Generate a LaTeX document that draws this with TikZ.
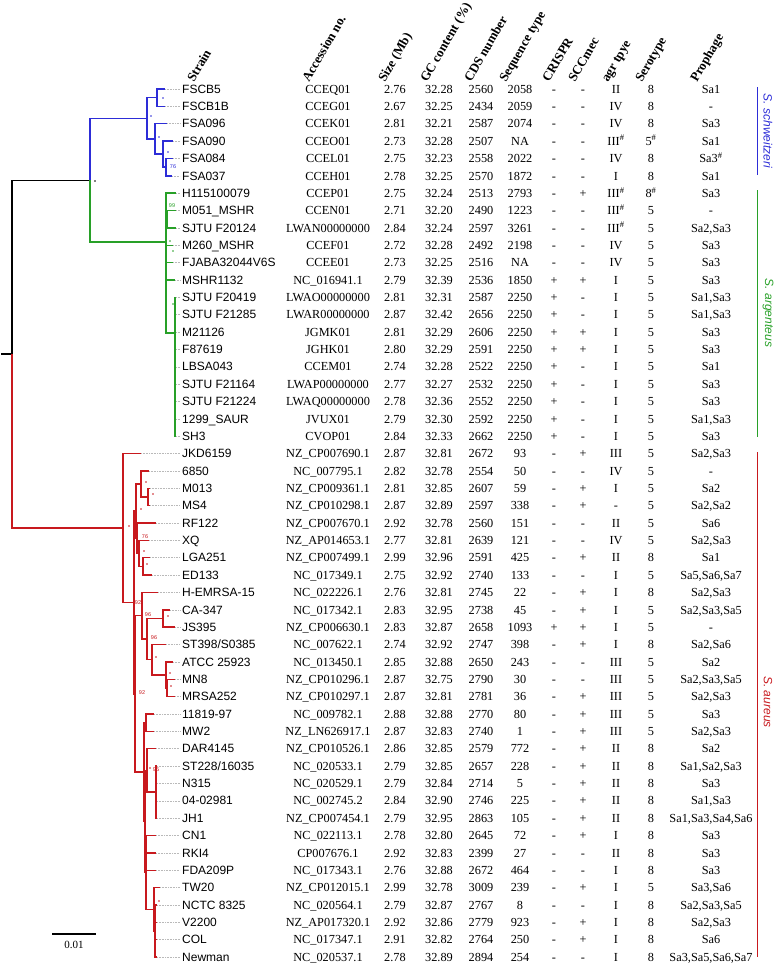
\documentclass[tikz,border=0pt]{standalone}
\usepackage{fontspec}
\setmainfont{Liberation Serif}
\newfontfamily\arialf{Liberation Sans}
\definecolor{tblue}{RGB}{45,45,215}
\definecolor{tgreen}{RGB}{40,160,40}
\definecolor{tred}{RGB}{200,25,30}
\newcommand\hs{\textsuperscript{\#}}
\newcommand\Row[9]{\def\RwI{#1}\def\RwS{#2}\def\RwA{#3}\def\RwZ{#4}\def\RwG{#5}\def\RwC{#6}\def\RwT{#7}\def\RwK{#8}\def\RwM{#9}\RowRest}
\newcommand\RowRest[3]{%
 \pgfmathsetmacro\RwY{89+17.36*\RwI+4.2}%
 \node[strain] (s\RwI) at (182,\RwY) {\RwS};
 \node[cell] (a\RwI) at (328,\RwY) {\RwA};
 \node[cell] (z\RwI) at (395,\RwY) {\RwZ};
 \node[cell] (g\RwI) at (439,\RwY) {\RwG};
 \node[cell] (c\RwI) at (481,\RwY) {\RwC};
 \node[cell] (q\RwI) at (520,\RwY) {\RwT};
 \node[cell] (k\RwI) at (554,\RwY) {\RwK};
 \node[cell] (m\RwI) at (583,\RwY) {\RwM};
 \node[cell] (r\RwI) at (616,\RwY) {#1};
 \node[cell] (e\RwI) at (651,\RwY) {#2};
 \node[cell] (p\RwI) at (711,\RwY) {#3};
}
\tikzset{
 strain/.style={anchor=base west,inner sep=0pt,font=\arialf\fontsize{12}{14}\selectfont},
 cell/.style={anchor=base,inner sep=0pt,font=\fontsize{12.3}{14}\selectfont},
 hdr/.style={anchor=base west,inner sep=0pt,rotate=60,font=\bfseries\fontsize{13}{15}\selectfont},
 br/.style={line width=1.4pt},
 leader/.style={draw=gray!55,line width=0.5pt,dash pattern=on 0.7pt off 0.9pt},
 boot/.style={inner sep=0pt,font=\arialf\fontsize{5.5}{6}\selectfont},
 sp/.style={rotate=-90,inner sep=0pt,font=\arialf\itshape\fontsize{12}{14}\selectfont},
 bar/.style={line width=1pt},
}
\begin{document}
\begin{tikzpicture}[x=1pt,y=-1pt]
\useasboundingbox (0,0) rectangle (778,966);
% headers
\node[hdr] (hStrain) at (194,83) {Strain};
\node[hdr] (hAcc) at (309,83) {Accession no.};
\node[hdr] (hSize) at (385,83) {Size (Mb)};
\node[hdr] (hGC) at (427,83) {GC content (\%)};
\node[hdr] (hCDS) at (471,83) {CDS number};
\node[hdr] (hSeq) at (506,83) {Sequence type};
\node[hdr] (hCr) at (549,83) {CRISPR};
\node[hdr] (hSc) at (575,83) {SCCmec};
\node[hdr] (hAgr) at (608,83) {agr tpye};
\node[hdr] (hSero) at (642,83) {Serotype};
\node[hdr] (hPro) at (697,83) {Prophage};
% rows
\Row{0}{FSCB5}{CCEQ01}{2.76}{32.28}{2560}{2058}{-}{-}{II}{8}{Sa1}
\Row{1}{FSCB1B}{CCEG01}{2.67}{32.25}{2434}{2059}{-}{-}{IV}{8}{-}
\Row{2}{FSA096}{CCEK01}{2.81}{32.21}{2587}{2074}{-}{-}{IV}{8}{Sa3}
\Row{3}{FSA090}{CCEO01}{2.73}{32.28}{2507}{NA}{-}{-}{III\hs}{5\hs}{Sa1}
\Row{4}{FSA084}{CCEL01}{2.75}{32.23}{2558}{2022}{-}{-}{IV}{8}{Sa3\hs}
\Row{5}{FSA037}{CCEH01}{2.78}{32.25}{2570}{1872}{-}{-}{I}{8}{Sa1}
\Row{6}{H115100079}{CCEP01}{2.75}{32.24}{2513}{2793}{-}{+}{III\hs}{8\hs}{Sa3}
\Row{7}{M051\_MSHR}{CCEN01}{2.71}{32.20}{2490}{1223}{-}{-}{III\hs}{5}{-}
\Row{8}{SJTU F20124}{LWAN00000000}{2.84}{32.24}{2597}{3261}{-}{-}{III\hs}{5}{Sa2,Sa3}
\Row{9}{M260\_MSHR}{CCEF01}{2.72}{32.28}{2492}{2198}{-}{-}{IV}{5}{Sa3}
\Row{10}{FJABA32044V6S}{CCEE01}{2.73}{32.25}{2516}{NA}{-}{-}{IV}{5}{Sa3}
\Row{11}{MSHR1132}{NC\_016941.1}{2.79}{32.39}{2536}{1850}{+}{+}{I}{5}{Sa3}
\Row{12}{SJTU F20419}{LWAO00000000}{2.81}{32.31}{2587}{2250}{+}{-}{I}{5}{Sa1,Sa3}
\Row{13}{SJTU F21285}{LWAR00000000}{2.87}{32.42}{2656}{2250}{+}{-}{I}{5}{Sa1,Sa3}
\Row{14}{M21126}{JGMK01}{2.81}{32.29}{2606}{2250}{+}{+}{I}{5}{Sa3}
\Row{15}{F87619}{JGHK01}{2.80}{32.29}{2591}{2250}{+}{+}{I}{5}{Sa3}
\Row{16}{LBSA043}{CCEM01}{2.74}{32.28}{2522}{2250}{+}{-}{I}{5}{Sa1}
\Row{17}{SJTU F21164}{LWAP00000000}{2.77}{32.27}{2532}{2250}{+}{-}{I}{5}{Sa3}
\Row{18}{SJTU F21224}{LWAQ00000000}{2.78}{32.36}{2552}{2250}{+}{-}{I}{5}{Sa3}
\Row{19}{1299\_SAUR}{JVUX01}{2.79}{32.30}{2592}{2250}{+}{-}{I}{5}{Sa1,Sa3}
\Row{20}{SH3}{CVOP01}{2.84}{32.33}{2662}{2250}{+}{-}{I}{5}{Sa3}
\Row{21}{JKD6159}{NZ\_CP007690.1}{2.87}{32.81}{2672}{93}{-}{+}{III}{5}{Sa2,Sa3}
\Row{22}{6850}{NC\_007795.1}{2.82}{32.78}{2554}{50}{-}{-}{IV}{5}{-}
\Row{23}{M013}{NZ\_CP009361.1}{2.81}{32.85}{2607}{59}{-}{+}{I}{5}{Sa2}
\Row{24}{MS4}{NZ\_CP010298.1}{2.87}{32.89}{2597}{338}{-}{+}{-}{5}{Sa2,Sa2}
\Row{25}{RF122}{NZ\_CP007670.1}{2.92}{32.78}{2560}{151}{-}{-}{II}{5}{Sa6}
\Row{26}{XQ}{NZ\_AP014653.1}{2.77}{32.81}{2639}{121}{-}{-}{IV}{5}{Sa2,Sa3}
\Row{27}{LGA251}{NZ\_CP007499.1}{2.99}{32.96}{2591}{425}{-}{+}{II}{8}{Sa1}
\Row{28}{ED133}{NC\_017349.1}{2.75}{32.92}{2740}{133}{-}{-}{I}{5}{Sa5,Sa6,Sa7}
\Row{29}{H-EMRSA-15}{NC\_022226.1}{2.76}{32.81}{2745}{22}{-}{+}{I}{8}{Sa2,Sa3}
\Row{30}{CA-347}{NC\_017342.1}{2.83}{32.95}{2738}{45}{-}{+}{I}{5}{Sa2,Sa3,Sa5}
\Row{31}{JS395}{NZ\_CP006630.1}{2.83}{32.87}{2658}{1093}{+}{+}{I}{5}{-}
\Row{32}{ST398/S0385}{NC\_007622.1}{2.74}{32.92}{2747}{398}{-}{+}{I}{8}{Sa2,Sa6}
\Row{33}{ATCC 25923}{NC\_013450.1}{2.85}{32.88}{2650}{243}{-}{-}{III}{5}{Sa2}
\Row{34}{MN8}{NZ\_CP010296.1}{2.87}{32.75}{2790}{30}{-}{-}{III}{5}{Sa2,Sa3,Sa5}
\Row{35}{MRSA252}{NZ\_CP010297.1}{2.87}{32.81}{2781}{36}{-}{+}{III}{5}{Sa2,Sa3}
\Row{36}{11819-97}{NC\_009782.1}{2.88}{32.88}{2770}{80}{-}{+}{III}{5}{Sa3}
\Row{37}{MW2}{NZ\_LN626917.1}{2.87}{32.83}{2740}{1}{-}{+}{III}{5}{Sa2,Sa3}
\Row{38}{DAR4145}{NZ\_CP010526.1}{2.86}{32.85}{2579}{772}{-}{+}{II}{8}{Sa2}
\Row{39}{ST228/16035}{NC\_020533.1}{2.79}{32.85}{2657}{228}{-}{+}{II}{8}{Sa1,Sa2,Sa3}
\Row{40}{N315}{NC\_020529.1}{2.79}{32.84}{2714}{5}{-}{+}{II}{8}{Sa3}
\Row{41}{04-02981}{NC\_002745.2}{2.84}{32.90}{2746}{225}{-}{+}{II}{8}{Sa1,Sa3}
\Row{42}{JH1}{NZ\_CP007454.1}{2.79}{32.95}{2863}{105}{-}{+}{II}{8}{Sa1,Sa3,Sa4,Sa6}
\Row{43}{CN1}{NC\_022113.1}{2.78}{32.80}{2645}{72}{-}{+}{I}{8}{Sa3}
\Row{44}{RKI4}{CP007676.1}{2.92}{32.83}{2399}{27}{-}{-}{II}{8}{Sa3}
\Row{45}{FDA209P}{NC\_017343.1}{2.76}{32.88}{2672}{464}{-}{-}{I}{8}{Sa3}
\Row{46}{TW20}{NZ\_CP012015.1}{2.99}{32.78}{3009}{239}{-}{+}{I}{5}{Sa3,Sa6}
\Row{47}{NCTC 8325}{NC\_020564.1}{2.79}{32.87}{2767}{8}{-}{-}{I}{8}{Sa2,Sa3,Sa5}
\Row{48}{V2200}{NZ\_AP017320.1}{2.92}{32.86}{2779}{923}{-}{+}{I}{8}{Sa2,Sa3}
\Row{49}{COL}{NC\_017347.1}{2.91}{32.82}{2764}{250}{-}{+}{I}{8}{Sa6}
\Row{50}{Newman}{NC\_020537.1}{2.78}{32.89}{2894}{254}{-}{-}{I}{8}{Sa3,Sa5,Sa6,Sa7}
% leaf tips and leaders
\foreach \i/\x in {0/165,1/165,2/167,3/173,4/173,5/172,6/176,7/176,8/176,9/173,10/173,11/175,
 12/176,13/176,14/176,15/176,16/176,17/176,18/176,19/176,20/176,
 21/141,22/149,23/150,24/150,25/156,26/149,27/150,28/152,29/158,30/170,31/175,32/166,33/173,34/175,35/175,
 36/154,37/154,38/156,39/157,40/157,41/157,42/157,43/156,44/156,45/156,46/160,47/157,48/157,49/157,50/157}{
 \coordinate (t\i) at (\x,{89+17.36*\i});
 \draw[leader,shorten >=2pt] (t\i) -- (s\i.west |- t\i);
}
% internal nodes
\coordinate (rootstub) at (1,354);
\coordinate (root) at (12,354);
\coordinate (T) at (90,180.2);
\coordinate (B0) at (147,118.3);
\coordinate (B1) at (157,97.68);
\coordinate (B2) at (155,138.91);
\coordinate (B3) at (163,154.1);
\coordinate (B4) at (166,167.12);
\coordinate (G0) at (166,242);
\coordinate (G1) at (167,219.2);
\coordinate (G3) at (175,333);
\coordinate (R0) at (123,528);
\coordinate (R1) at (134,602.5);
\coordinate (R2) at (136,511.07);
\coordinate (S6850) at (141,483.94);
\coordinate (MM) at (148,496.96);
\coordinate (Q) at (137,538.19);
\coordinate (XQg) at (139,553.38);
\coordinate (LE) at (143,566.4);
\coordinate (R5) at (135,693.9);
\coordinate (R4) at (142,615.77);
\coordinate (CS) at (147,639.1);
\coordinate (CJ) at (163,618.48);
\coordinate (ST) at (152,659.71);
\coordinate (AT) at (166,674.9);
\coordinate (MR) at (167,687.92);
\coordinate (R3) at (144,772);
\coordinate (MW) at (146,722.64);
\coordinate (Bn) at (145,821.4);
\coordinate (DA) at (147,770.38);
\coordinate (D4) at (156,792.08);
\coordinate (Cn) at (146,872.37);
\coordinate (TW) at (154,909.26);
\coordinate (N4) at (155,930.96);
% black
\draw[br] (rootstub) -- (root);
\draw[br] (root) |- (T);
% blue
\draw[br,tblue] (T) |- (B0);
\draw[br,tblue] (B0) |- (B1); \draw[br,tblue] (B0) |- (B2);
\draw[br,tblue] (B1) |- (t0); \draw[br,tblue] (B1) |- (t1);
\draw[br,tblue] (B2) |- (t2); \draw[br,tblue] (B2) |- (B3);
\draw[br,tblue] (B3) |- (t3); \draw[br,tblue] (B3) |- (B4);
\draw[br,tblue] (B4) |- (t4); \draw[br,tblue] (B4) |- (t5);
% green
\draw[br,tgreen] (T) |- (G0);
\foreach \c in {t6,G1,t9,t10,t11,G3} \draw[br,tgreen] (G0) |- (\c);
\draw[br,tgreen] (G1) |- (t7); \draw[br,tgreen] (G1) |- (t8);
\foreach \c in {12,...,20} \draw[br,tgreen] (G3) |- (t\c);
% red
\draw[br,tred] (root) |- (R0);
\draw[br,tred] (R0) |- (t21); \draw[br,tred] (R0) |- (R1);
\draw[br,tred] (R1) |- (R2); \draw[br,tred] (R1) |- (R5);
\draw[br,tred] (R2) |- (S6850); \draw[br,tred] (R2) |- (Q);
\draw[br,tred] (S6850) |- (t22); \draw[br,tred] (S6850) |- (MM);
\draw[br,tred] (MM) |- (t23); \draw[br,tred] (MM) |- (t24);
\draw[br,tred] (Q) |- (t25); \draw[br,tred] (Q) |- (XQg);
\draw[br,tred] (XQg) |- (t26); \draw[br,tred] (XQg) |- (LE);
\draw[br,tred] (LE) |- (t27); \draw[br,tred] (LE) |- (t28);
\draw[br,tred] (R5) |- (R4); \draw[br,tred] (R5) |- (R3);
\draw[br,tred] (R4) |- (t29); \draw[br,tred] (R4) |- (CS);
\draw[br,tred] (CS) |- (CJ); \draw[br,tred] (CS) |- (ST);
\draw[br,tred] (CJ) |- (t30); \draw[br,tred] (CJ) |- (t31);
\draw[br,tred] (ST) |- (t32); \draw[br,tred] (ST) |- (AT);
\draw[br,tred] (AT) |- (t33); \draw[br,tred] (AT) |- (MR);
\draw[br,tred] (MR) |- (t34); \draw[br,tred] (MR) |- (t35);
\draw[br,tred] (R3) |- (MW); \draw[br,tred] (R3) |- (Bn);
\draw[br,tred] (MW) |- (t36); \draw[br,tred] (MW) |- (t37);
\draw[br,tred] (Bn) |- (DA); \draw[br,tred] (Bn) |- (Cn);
\draw[br,tred] (DA) |- (t38); \draw[br,tred] (DA) |- (D4);
\foreach \c in {39,...,42} \draw[br,tred] (D4) |- (t\c);
\foreach \c in {43,44,45} \draw[br,tred] (Cn) |- (t\c);
\draw[br,tred] (Cn) |- (TW);
\draw[br,tred] (TW) |- (t46); \draw[br,tred] (TW) |- (N4);
\foreach \c in {47,...,50} \draw[br,tred] (N4) |- (t\c);
% support dots
\fill (95,181) circle (0.8);
\foreach \p in {(163,98),(151,116),(159,137),(168,152)} \fill[tblue] \p circle (0.8);
\foreach \p in {(170,241),(173,251),(172,280),(173,304)} \fill[tgreen] \p circle (0.8);
\foreach \p in {(146,482),(153,494),(141,509),(129,526),(144,551),(147,564),(168,616),(156,657),(170,673),(171,686),(159,901),(150,768)} \fill[tred] \p circle (0.8);
% bootstrap values
\node[boot,text=tblue] (bs1) at (173,167) {76};
\node[boot,text=tgreen] (bs2) at (172,206) {99};
\node[boot,text=tred] (bs3) at (145,537) {76};
\node[boot,text=tred] (bs4) at (138,603) {92};
\node[boot,text=tred] (bs5) at (148,615) {96};
\node[boot,text=tred] (bs6) at (154,638) {96};
\node[boot,text=tred] (bs7) at (142,693) {92};
\node[boot,text=tred] (bs8) at (156,770) {95};
% species brackets
\coordinate (sbA) at (757,87); \coordinate (sbB) at (757,175);
\coordinate (sgA) at (757,190); \coordinate (sgB) at (757,437);
\coordinate (srA) at (757,452); \coordinate (srB) at (757,957);
\draw[bar,tblue] (sbA) -- (sbB);
\draw[bar,tgreen] (sgA) -- (sgB);
\draw[bar,tred] (srA) -- (srB);
\node[sp,text=tblue] (lS) at (768,131) {S. schweitzeri};
\node[sp,text=tgreen] (lA) at (768,313) {S. argenteus};
\node[sp,text=tred] (lU) at (768,702) {S. aureus};
% scale bar
\coordinate (sc1) at (52,934); \coordinate (sc2) at (96,934);
\draw[line width=1.2pt] (sc1) -- (sc2);
\node[inner sep=0pt,font=\fontsize{11}{12}\selectfont] (scl) at (74,944.5) {0.01};
\end{tikzpicture}
\end{document}
